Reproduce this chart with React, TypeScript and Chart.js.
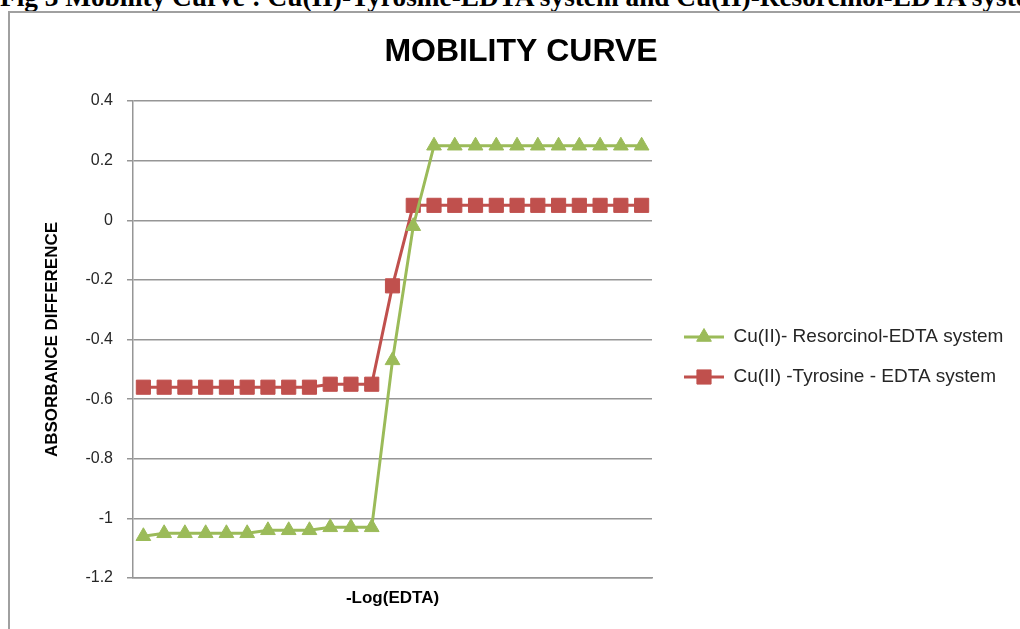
import React, { useEffect, useRef } from 'react';
import { Chart, registerables } from 'chart.js';

Chart.register(...registerables);

// ---------- data ----------
const categories = ['1', '2', '3', '4', '5', '6', '7', '8', '9', '10', '11', '12', '13', '14', '15', '16', '17', '18', '19', '20', '21', '22', '23', '24', '25'];
const resorcinolValues = [-1.06, -1.05, -1.05, -1.05, -1.05, -1.05, -1.04, -1.04, -1.04, -1.03, -1.03, -1.03, -0.47, -0.02, 0.25, 0.25, 0.25, 0.25, 0.25, 0.25, 0.25, 0.25, 0.25, 0.25, 0.25];
const tyrosineValues = [-0.56, -0.56, -0.56, -0.56, -0.56, -0.56, -0.56, -0.56, -0.56, -0.55, -0.55, -0.55, -0.22, 0.05, 0.05, 0.05, 0.05, 0.05, 0.05, 0.05, 0.05, 0.05, 0.05, 0.05, 0.05];
const yTickValues = [0.4, 0.2, 0, -0.2, -0.4, -0.6, -0.8, -1, -1.2];
const seriesLabels = ['Cu(II)- Resorcinol-EDTA system', 'Cu(II) -Tyrosine - EDTA system'];
const seriesColors = ['#9BBB59', '#C0504D'];
const seriesMarkers = ['triangle', 'rect'];
const seriesMarkerRadius = [8.5, 10];

const chartTitle = 'MOBILITY CURVE';
const yAxisTitle = 'ABSORBANCE DIFFERENCE';
const xAxisTitle = '-Log(EDTA)';
const captionText = 'Fig 3 Mobility Curve : Cu(II)-Tyrosine-EDTA system and Cu(II)-Resorcinol-EDTA system';

// ---------- style / layout ----------
const FONT = "'Liberation Sans', Arial, sans-serif";
const GRID_COLOR = '#969696';
const TEXT_COLOR = '#262626';
const LEGEND_FONT_SIZE = 19;
const LEGEND_PADDING = 21;
const LEGEND_BOX_WIDTH = 40;
const LEGEND_ITEM_X = 684;
const LEGEND_FIRST_Y = 337;
const LEGEND_BOX_SPAN = 400;
const TITLE_CENTER_X = 521;

function drawMarker(ctx: CanvasRenderingContext2D, style: string, cx: number, cy: number, r: number, color: string) {
  ctx.save();
  ctx.fillStyle = color;
  ctx.strokeStyle = color;
  ctx.lineWidth = 1;
  ctx.beginPath();
  if (style === 'triangle') {
    ctx.moveTo(cx, cy - r);
    ctx.lineTo(cx + r * Math.sin((2 * Math.PI) / 3), cy - r * Math.cos((2 * Math.PI) / 3));
    ctx.lineTo(cx + r * Math.sin((4 * Math.PI) / 3), cy - r * Math.cos((4 * Math.PI) / 3));
    ctx.closePath();
  } else {
    const s = Math.SQRT1_2 * r;
    ctx.rect(cx - s, cy - s, 2 * s, 2 * s);
  }
  ctx.fill();
  ctx.stroke();
  ctx.restore();
}

const placementPlugin = {
  id: 'placement',
  afterLayout(chart: any) {
    const lg = chart.legend;
    if (lg) {
      const h = lg.height;
      lg.left = LEGEND_ITEM_X - LEGEND_PADDING;
      lg.width = LEGEND_BOX_SPAN;
      lg.right = lg.left + LEGEND_BOX_SPAN;
      lg.top = LEGEND_FIRST_Y - LEGEND_FONT_SIZE / 2 - LEGEND_PADDING;
      lg.bottom = lg.top + h;
    }
    const tb = chart.titleBlock;
    if (tb) {
      const half = tb.width / 2;
      tb.left = TITLE_CENTER_X - half;
      tb.right = TITLE_CENTER_X + half;
    }
  },
  afterDraw(chart: any) {
    const lg = chart.legend;
    if (!lg || !lg.legendHitBoxes) return;
    const ctx = chart.ctx as CanvasRenderingContext2D;
    lg.legendHitBoxes.forEach((hb: any, i: number) => {
      const cx = hb.left + LEGEND_BOX_WIDTH / 2;
      const cy = hb.top + hb.height / 2;
      drawMarker(ctx, seriesMarkers[i], cx, cy, seriesMarkerRadius[i], seriesColors[i]);
    });
  },
};

export default function App() {
  const canvasRef = useRef<HTMLCanvasElement | null>(null);

  useEffect(() => {
    if (!canvasRef.current) return;
    const datasets = [resorcinolValues, tyrosineValues].map((values, i) => ({
      label: seriesLabels[i],
      data: values,
      borderColor: seriesColors[i],
      backgroundColor: seriesColors[i],
      borderWidth: 3,
      pointStyle: seriesMarkers[i] as any,
      pointRadius: seriesMarkerRadius[i],
      pointBorderWidth: 1,
      pointBorderColor: seriesColors[i],
      pointBackgroundColor: seriesColors[i],
      tension: 0,
      fill: false,
    }));

    const chart = new Chart(canvasRef.current, {
      type: 'line',
      data: { labels: categories, datasets },
      options: {
        animation: false,
        responsive: false,
        events: [],
        layout: { padding: { left: 0, top: 0, right: 168, bottom: 0 } },
        plugins: {
          title: {
            display: true,
            text: chartTitle,
            color: '#000000',
            font: { family: FONT, size: 32, weight: 'bold', lineHeight: 1.2 },
            padding: { top: 33, bottom: 29.6 },
          },
          legend: {
            display: true,
            position: 'right',
            align: 'start',
            maxWidth: 200,
            labels: {
              boxWidth: LEGEND_BOX_WIDTH,
              boxHeight: 3,
              padding: LEGEND_PADDING,
              color: TEXT_COLOR,
              font: { family: FONT, size: LEGEND_FONT_SIZE },
              generateLabels: (c: any) => {
                const items = Chart.defaults.plugins.legend.labels.generateLabels(c);
                return items.map((it: any, i: number) => ({ ...it, fillStyle: seriesColors[i], lineWidth: 0 }));
              },
            },
          },
          tooltip: { enabled: false },
        },
        scales: {
          x: {
            type: 'category',
            offset: true,
            grid: { display: false },
            border: { display: true, color: GRID_COLOR, width: 1.5 },
            ticks: { display: false },
            title: {
              display: true,
              text: xAxisTitle,
              color: '#000000',
              font: { family: FONT, size: 17, weight: 'bold', lineHeight: 1.2 },
              padding: { top: 0, bottom: 20 },
            },
            afterFit: (s: any) => {
              s.height = 51;
            },
          },
          y: {
            min: Math.min(...yTickValues),
            max: Math.max(...yTickValues),
            afterBuildTicks: (s: any) => {
              s.ticks = yTickValues.map((value) => ({ value }));
            },
            afterFit: (s: any) => {
              s.width = 133;
            },
            grid: { color: GRID_COLOR, lineWidth: 1.5, tickLength: 6, drawTicks: true },
            border: { display: true, color: GRID_COLOR, width: 1.5 },
            ticks: {
              padding: 14,
              color: TEXT_COLOR,
              font: { family: FONT, size: 16 },
              callback: (v: any) => String(Math.round(Number(v) * 10) / 10),
            },
            title: {
              display: true,
              text: yAxisTitle,
              color: '#000000',
              font: { family: FONT, size: 17, weight: 'bold', lineHeight: 1.2 },
              padding: { top: 42, bottom: 0 },
            },
          },
        },
      },
      plugins: [placementPlugin],
    } as any);

    return () => chart.destroy();
  }, []);

  return (
    <div style={{ position: 'fixed', left: 0, top: 0, width: 1020, height: 629, overflow: 'hidden', background: '#ffffff' }}>
      <div
        style={{
          position: 'absolute',
          left: 0,
          top: -16,
          whiteSpace: 'nowrap',
          fontFamily: "'Liberation Serif', 'Times New Roman', serif",
          fontWeight: 'bold',
          fontSize: 27.3,
          lineHeight: '26px',
          color: '#000',
        }}
      >
        {captionText}
      </div>
      <div
        style={{
          position: 'absolute',
          left: 8,
          top: 11,
          width: 1100,
          height: 700,
          borderLeft: '2px solid #a0a0a0',
          borderTop: '2px solid #a0a0a0',
          boxSizing: 'border-box',
        }}
      />
      <canvas ref={canvasRef} width={1020} height={629} style={{ position: 'absolute', left: 0, top: 0 }} />
    </div>
  );
}
